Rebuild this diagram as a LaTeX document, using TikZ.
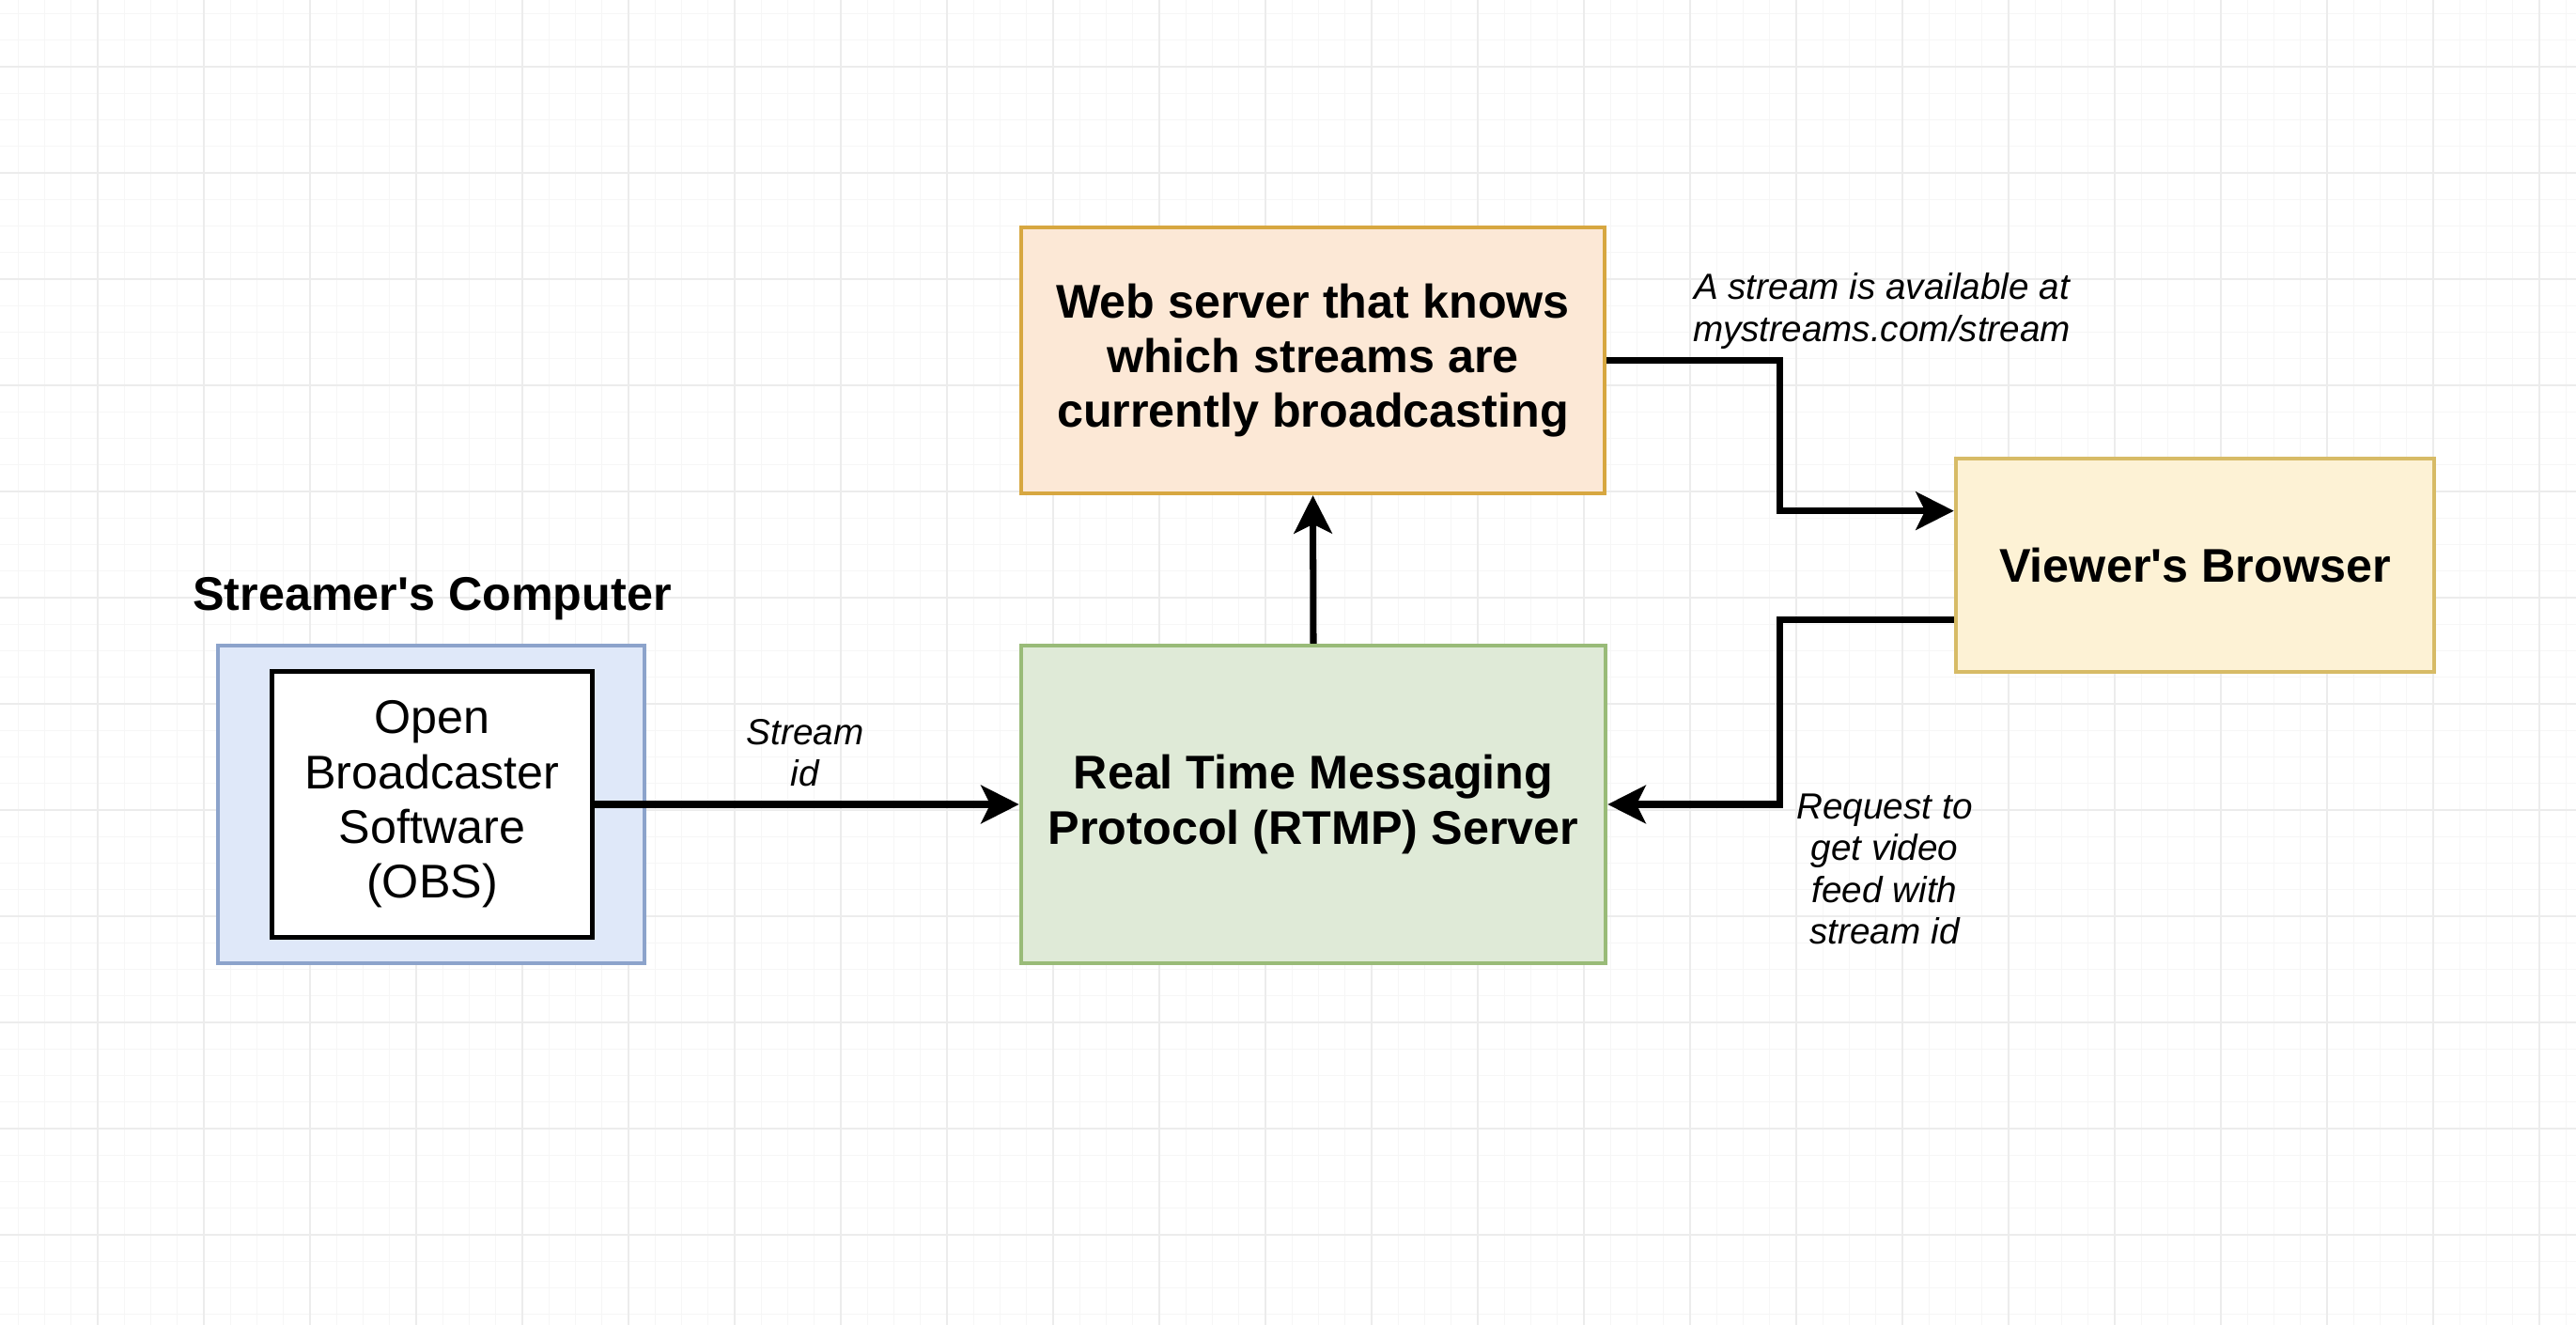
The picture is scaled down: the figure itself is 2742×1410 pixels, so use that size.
\documentclass[tikz,border=0pt]{standalone}
\usepackage{fontspec}
\setmainfont{Liberation Sans}
\usetikzlibrary{arrows.meta,calc}
\definecolor{gridminorc}{HTML}{F6F6F6}
\definecolor{gridmajorc}{HTML}{ECECEC}
\definecolor{bluefill}{HTML}{DFE8F9}
\definecolor{bluedraw}{HTML}{8CA3CB}
\definecolor{orangefill}{HTML}{FCE8D6}
\definecolor{orangedraw}{HTML}{D7A740}
\definecolor{greenfill}{HTML}{DFEAD7}
\definecolor{greendraw}{HTML}{99BB78}
\definecolor{yellowfill}{HTML}{FDF2D5}
\definecolor{yellowdraw}{HTML}{D7BB66}
\tikzset{
  gridminor/.style={draw=gridminorc, line width=0.3pt},
  gridmajor/.style={draw=gridmajorc, line width=0.45pt},
  box/.style={draw, line width=1.2pt, inner sep=0pt, align=center,
    font=\fontsize{14.3pt}{16.6pt}\selectfont\bfseries},
  bluebox/.style={box, draw=bluedraw, fill=bluefill},
  orangebox/.style={box, draw=orangedraw, fill=orangefill},
  greenbox/.style={box, draw=greendraw, fill=greenfill},
  yellowbox/.style={box, draw=yellowdraw, fill=yellowfill},
  obsbox/.style={draw=black, fill=white, line width=1.4pt, inner sep=0pt, align=center,
    font=\fontsize{14.3pt}{16.6pt}\selectfont},
  titletext/.style={inner sep=0pt, font=\fontsize{14.3pt}{16.6pt}\selectfont\bfseries},
  lbl/.style={inner sep=0pt, align=center, font=\fontsize{11pt}{12.6pt}\selectfont\itshape},
  conn/.style={line width=2pt, -{Stealth[length=11.5pt,width=11.5pt,inset=2.8pt]}}
}
\begin{document}
\begin{tikzpicture}[x=0.01cm, y=-0.01cm]
\useasboundingbox (0,0) rectangle (2742,1410);
\fill[white] (0,0) rectangle (2742,1410);
% grid
\foreach \k in {0,...,96} { \draw[gridminor] ({19.25+28.25*\k},0) -- ({19.25+28.25*\k},1410); }
\foreach \k in {0,...,49} { \draw[gridminor] (0,{14.5+28.25*\k}) -- (2742,{14.5+28.25*\k}); }
\foreach \k in {0,...,23} { \draw[gridmajor] ({104+113*\k},0) -- ({104+113*\k},1410); }
\foreach \k in {0,...,11} { \draw[gridmajor] (0,{71+113*\k}) -- (2742,{71+113*\k}); }

% nodes
\node[titletext, anchor=base] (comptitle) at (460,650) {Streamer\textquotesingle s Computer};
\node[bluebox, minimum width=4.54cm, minimum height=3.38cm] (comp) at (459,856) {};
\node[obsbox, minimum width=3.40cm, minimum height=2.82cm] (obs) at (460,856)
  {Open\\Broadcaster\\Software\\(OBS)};
\node[greenbox, minimum width=6.22cm, minimum height=3.38cm] (rtmp) at (1398,856)
  {Real Time Messaging\\Protocol (RTMP) Server};
\node[orangebox, minimum width=6.21cm, minimum height=2.83cm] (web) at (1397.5,383.5)
  {Web server that knows\\which streams are\\currently broadcasting};
\node[yellowbox, minimum width=5.09cm, minimum height=2.27cm] (viewer) at (2336.5,601.5)
  {Viewer\textquotesingle s Browser};

% labels
\node[lbl] (lstream) at (857,801.5) {Stream\\id};
\node[lbl] (lavail) at (2003,331) {A stream is available at\\mystreams.com/stream};
\node[lbl] (lreq) at (2006,925) {Request to\\get video\\feed with\\stream id};

% connectors
\coordinate (bendx) at (1894,0);
\coordinate (vin) at ($(viewer.north west)!0.25!(viewer.south west)$);
\coordinate (vout) at ($(viewer.north west)!0.75!(viewer.south west)$);
\draw[conn] (obs.east) -- (rtmp.west);
\draw[conn] (rtmp.north) -- (web.south);
\draw[conn] (web.east) -- (web.east -| bendx) |- (vin);
\draw[conn] (vout) -- (vout -| bendx) |- (rtmp.east);
\end{tikzpicture}
\end{document}
